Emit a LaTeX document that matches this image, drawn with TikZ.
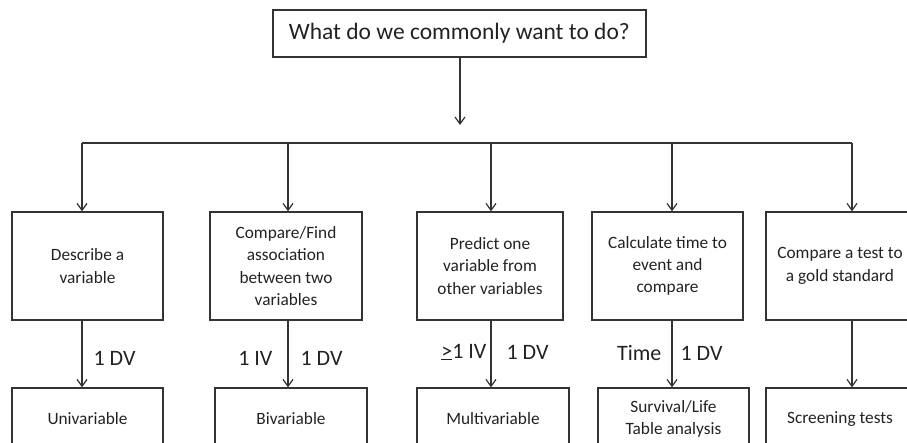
\documentclass[tikz,border=0pt]{standalone}
\usepackage{fontspec}
\setmainfont{Carlito}
\usetikzlibrary{arrows.meta,calc}
\definecolor{linegray}{HTML}{333333}
\definecolor{textgray}{HTML}{222222}
\tikzstyle{box}=[draw=linegray,line width=1.2pt,inner sep=0pt,align=center,text=textgray,font=\fontsize{17.3}{22.3}\selectfont]
\tikzstyle{edge}=[draw=linegray,line width=1.2pt,-{Straight Barb[length=7pt,width=10pt]}]
\tikzstyle{line}=[draw=linegray,line width=1.2pt]
\tikzstyle{dv}=[font=\fontsize{22}{26}\selectfont,text=textgray,inner sep=0pt]

\begin{document}
\begin{tikzpicture}[x=1pt,y=-1pt]
    \clip (0,0) rectangle (907,442);

    \node[box,minimum width=373,minimum height=47,font=\fontsize{23.5}{28}\selectfont] (q) at (459.4,33.5) {What do we commonly want to do?};

    % what we want to do
    \foreach \pos/\w/\name/\txt in {{87.5/151/describe/{Describe a\\variable}}, {286/152/compare/{Compare/Find\\association\\between two\\variables}}, {490/146/predict/{Predict one\\variable from\\other variables}}, {667.5/151/calc/{Calculate time to\\event and\\compare}}, {840/148/gold/{Compare a test to\\a gold standard}}}
        \node[box,minimum width=\w,minimum height=108] (\name) at (\pos,266) {\txt};

    % kind of analysis
    \foreach \pos/\w/\name/\txt in {{87.5/151/uni/{Univariable}}, {291/152/bi/{Bivariable}}, {493/152/multi/{Multivariable}}, {673.5/151/surv/{Survival/Life\\Table analysis}}, {840/148/screen/{Screening tests}}}
        \node[box,minimum width=\w,minimum height=62] (\name) at (\pos,419) {\txt};

    \coordinate (t) at (460,125);
    \foreach \x/\n in {82/1, 288/2, 491/3, 672/4, 852/5}
        \coordinate (h\n) at (\x,143);

    \draw[edge] (q.south -| t) -- (t);
    \path[line] (h1) -- (h5);
    \foreach \n/\name in {1/describe, 2/compare, 3/predict, 4/calc, 5/gold}
        \draw[edge] (h\n) -- (h\n |- \name.north);

    \draw[edge] (describe.south -| h1) -- node[dv,right=11pt,yshift=-4pt] {1 DV} (uni.north -| h1);
    \draw[edge] (compare.south -| h2) -- node[dv,left=15pt,yshift=-4pt] {1 IV} node[dv,right=12pt,yshift=-4pt] {1 DV} (bi.north -| h2);
    \draw[edge] (predict.south -| h3) -- node[dv,left=4pt,yshift=2pt] {\underline{>}1 IV} node[dv,right=15pt,yshift=2pt] {1 DV} (multi.north -| h3);
    \draw[edge] (calc.south -| h4) -- node[dv,left=10pt,yshift=1pt] {Time} node[dv,right=8pt,yshift=1pt] {1 DV} (surv.north -| h4);
    \draw[edge] (gold.south -| h5) -- (screen.north -| h5);
\end{tikzpicture}
\end{document}
